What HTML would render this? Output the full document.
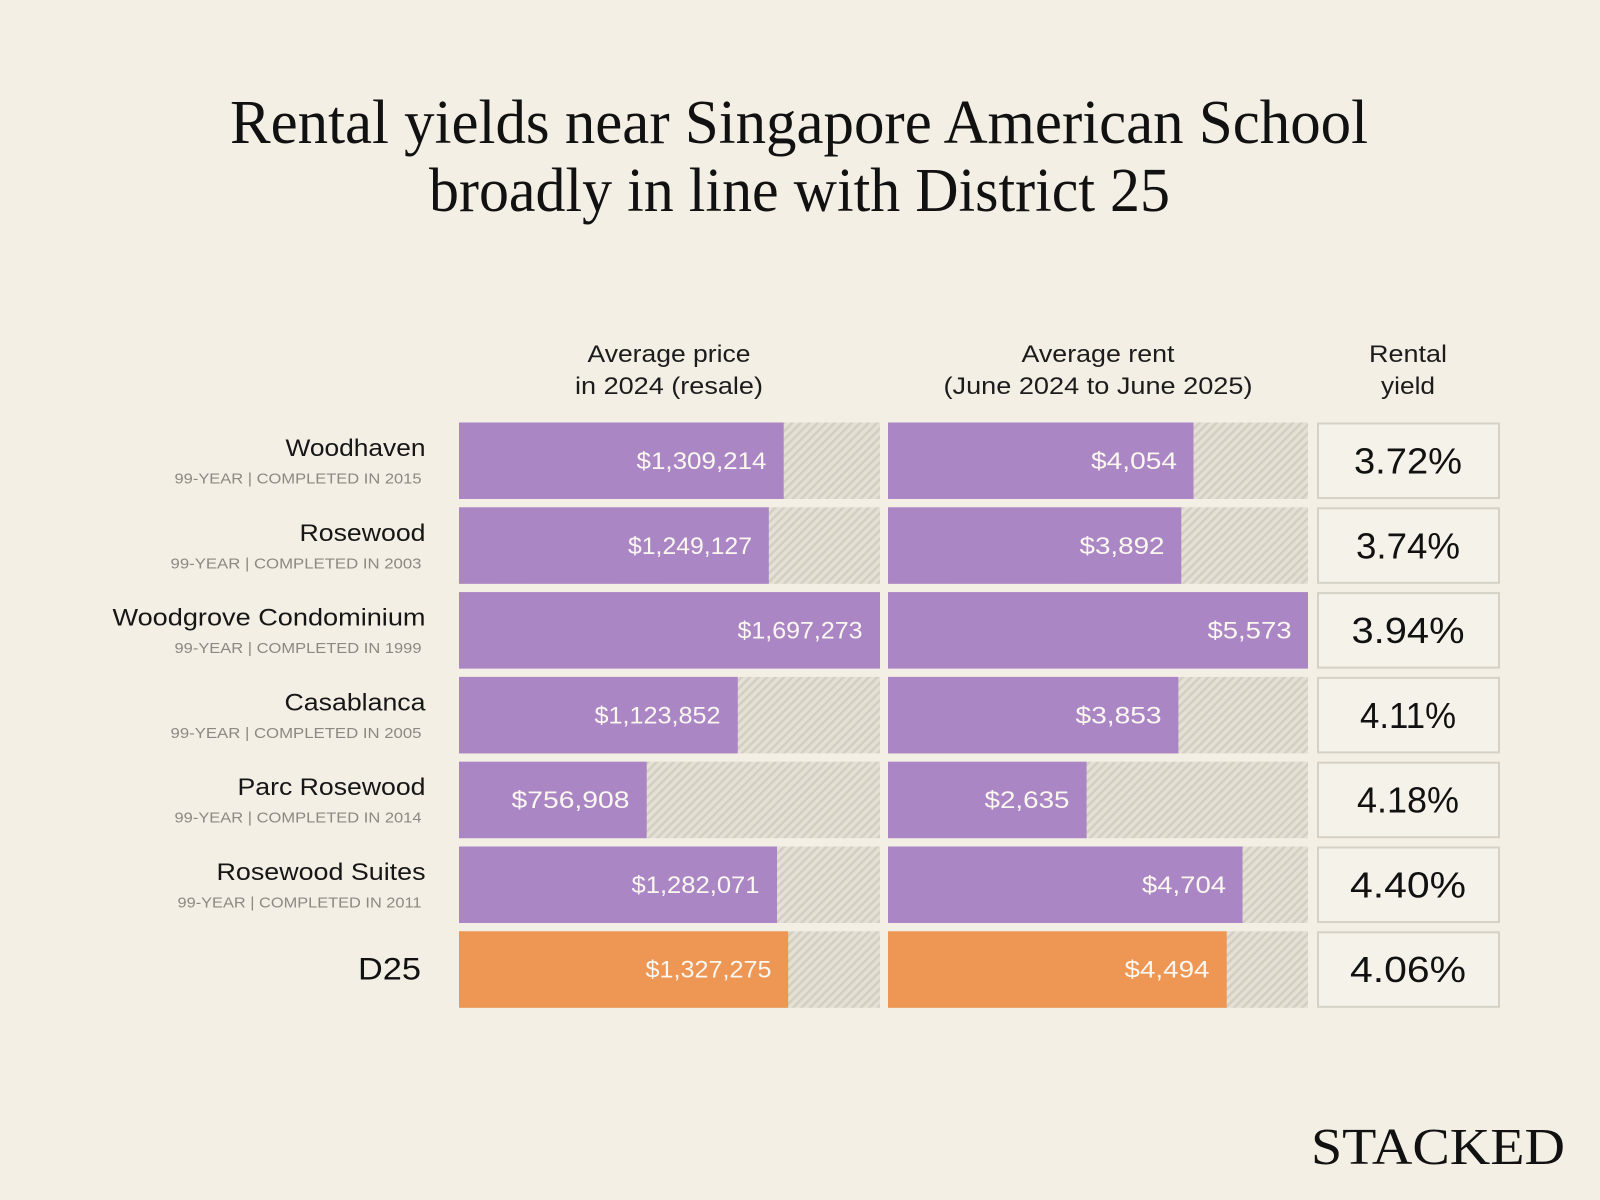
<!DOCTYPE html>
<html>
<head>
<meta charset="utf-8">
<style>
  html, body { margin:0; padding:0; background:#F3EFE5; }
  svg { display:block; }
  .sans { font-family: "Liberation Sans", "DejaVu Sans", sans-serif; }
  .serif { font-family: "Liberation Serif", "DejaVu Serif", serif; }
</style>
</head>
<body>
<svg width="1600" height="1200" viewBox="0 0 1600 1200" xmlns="http://www.w3.org/2000/svg">
  <defs>
    <pattern id="h" width="6" height="6" patternUnits="userSpaceOnUse" patternTransform="rotate(45)">
      <rect width="6" height="6" fill="#E4E0D5"/>
      <rect width="2.4" height="6" fill="#D2CEC2"/>
    </pattern>
  </defs>
  <rect width="1600" height="1200" fill="#F3EFE5"/>

  <!-- Title -->
  <text class="serif" x="230" y="143" font-size="62" fill="#111" textLength="1138" lengthAdjust="spacingAndGlyphs">Rental yields near Singapore American School</text>
  <text class="serif" x="429" y="211" font-size="62" fill="#111" textLength="741" lengthAdjust="spacingAndGlyphs">broadly in line with District 25</text>

  <!-- Column headers -->
  <g class="sans" font-size="24" fill="#1c1c1c" text-anchor="middle">
    <text x="669" y="362" textLength="163" lengthAdjust="spacingAndGlyphs">Average price</text>
    <text x="669" y="394" textLength="188" lengthAdjust="spacingAndGlyphs">in 2024 (resale)</text>
    <text x="1098" y="362" textLength="153" lengthAdjust="spacingAndGlyphs">Average rent</text>
    <text x="1098" y="394" textLength="309" lengthAdjust="spacingAndGlyphs">(June 2024 to June 2025)</text>
    <text x="1408" y="362" textLength="78" lengthAdjust="spacingAndGlyphs">Rental</text>
    <text x="1408" y="394" textLength="54" lengthAdjust="spacingAndGlyphs">yield</text>
  </g>

  <!-- Hatched backgrounds -->
  <g fill="url(#h)">
    <rect x="459" y="422.5" width="421" height="76.5"/>
    <rect x="459" y="507.3" width="421" height="76.5"/>
    <rect x="459" y="592.1" width="421" height="76.5"/>
    <rect x="459" y="676.9" width="421" height="76.5"/>
    <rect x="459" y="761.7" width="421" height="76.5"/>
    <rect x="459" y="846.5" width="421" height="76.5"/>
    <rect x="459" y="931.3" width="421" height="76.5"/>
    <rect x="888" y="422.5" width="420" height="76.5"/>
    <rect x="888" y="507.3" width="420" height="76.5"/>
    <rect x="888" y="592.1" width="420" height="76.5"/>
    <rect x="888" y="676.9" width="420" height="76.5"/>
    <rect x="888" y="761.7" width="420" height="76.5"/>
    <rect x="888" y="846.5" width="420" height="76.5"/>
    <rect x="888" y="931.3" width="420" height="76.5"/>
  </g>

  <!-- Price bars -->
  <g fill="#AB86C4">
    <rect x="459" y="422.5" width="324.7" height="76.5"/>
    <rect x="459" y="507.3" width="309.8" height="76.5"/>
    <rect x="459" y="592.1" width="421" height="76.5"/>
    <rect x="459" y="676.9" width="278.8" height="76.5"/>
    <rect x="459" y="761.7" width="187.7" height="76.5"/>
    <rect x="459" y="846.5" width="318.0" height="76.5"/>
  </g>
  <rect x="459" y="931.3" width="329.2" height="76.5" fill="#EE9654"/>

  <!-- Rent bars -->
  <g fill="#AB86C4">
    <rect x="888" y="422.5" width="305.5" height="76.5"/>
    <rect x="888" y="507.3" width="293.3" height="76.5"/>
    <rect x="888" y="592.1" width="420" height="76.5"/>
    <rect x="888" y="676.9" width="290.4" height="76.5"/>
    <rect x="888" y="761.7" width="198.6" height="76.5"/>
    <rect x="888" y="846.5" width="354.5" height="76.5"/>
  </g>
  <rect x="888" y="931.3" width="338.7" height="76.5" fill="#EE9654"/>

  <!-- Bar values -->
  <g class="sans" font-size="24" fill="#FBF7F1" text-anchor="end">
    <text x="766.5" y="469" textLength="130" lengthAdjust="spacingAndGlyphs">$1,309,214</text>
    <text x="752" y="553.8" textLength="124" lengthAdjust="spacingAndGlyphs">$1,249,127</text>
    <text x="862.5" y="638.6" textLength="125" lengthAdjust="spacingAndGlyphs">$1,697,273</text>
    <text x="720.5" y="723.4" textLength="126" lengthAdjust="spacingAndGlyphs">$1,123,852</text>
    <text x="629.5" y="808.2" textLength="118" lengthAdjust="spacingAndGlyphs">$756,908</text>
    <text x="759.5" y="893" textLength="128" lengthAdjust="spacingAndGlyphs">$1,282,071</text>
    <text x="771.5" y="977.5" textLength="126" lengthAdjust="spacingAndGlyphs">$1,327,275</text>

    <text x="1177" y="469" textLength="86" lengthAdjust="spacingAndGlyphs">$4,054</text>
    <text x="1164.5" y="553.8" textLength="85" lengthAdjust="spacingAndGlyphs">$3,892</text>
    <text x="1291.5" y="638.6" textLength="84" lengthAdjust="spacingAndGlyphs">$5,573</text>
    <text x="1161.5" y="723.4" textLength="86" lengthAdjust="spacingAndGlyphs">$3,853</text>
    <text x="1069.5" y="808.2" textLength="85" lengthAdjust="spacingAndGlyphs">$2,635</text>
    <text x="1226" y="893" textLength="84" lengthAdjust="spacingAndGlyphs">$4,704</text>
    <text x="1209.5" y="977.5" textLength="85" lengthAdjust="spacingAndGlyphs">$4,494</text>
  </g>

  <!-- Yield boxes -->
  <g fill="#F5F2EA" stroke="#D6D1C5" stroke-width="2">
    <rect x="1318" y="423.5" width="181" height="74.5"/>
    <rect x="1318" y="508.3" width="181" height="74.5"/>
    <rect x="1318" y="593.1" width="181" height="74.5"/>
    <rect x="1318" y="677.9" width="181" height="74.5"/>
    <rect x="1318" y="762.7" width="181" height="74.5"/>
    <rect x="1318" y="847.5" width="181" height="74.5"/>
    <rect x="1318" y="932.3" width="181" height="74.5"/>
  </g>
  <g class="sans" font-size="36" fill="#111" text-anchor="middle">
    <text x="1408" y="473.5" textLength="108" lengthAdjust="spacingAndGlyphs">3.72%</text>
    <text x="1408" y="558.3" textLength="104" lengthAdjust="spacingAndGlyphs">3.74%</text>
    <text x="1408" y="643.1" textLength="113" lengthAdjust="spacingAndGlyphs">3.94%</text>
    <text x="1408" y="727.9" textLength="96" lengthAdjust="spacingAndGlyphs">4.11%</text>
    <text x="1408" y="812.7" textLength="102" lengthAdjust="spacingAndGlyphs">4.18%</text>
    <text x="1408" y="897.5" textLength="116" lengthAdjust="spacingAndGlyphs">4.40%</text>
    <text x="1408" y="982" textLength="116" lengthAdjust="spacingAndGlyphs">4.06%</text>
  </g>

  <!-- Row labels -->
  <g class="sans" font-size="24" fill="#161616" text-anchor="end">
    <text x="425.5" y="456" textLength="140" lengthAdjust="spacingAndGlyphs">Woodhaven</text>
    <text x="425.5" y="540.8" textLength="126" lengthAdjust="spacingAndGlyphs">Rosewood</text>
    <text x="425.5" y="625.6" textLength="313" lengthAdjust="spacingAndGlyphs">Woodgrove Condominium</text>
    <text x="425.5" y="710.4" textLength="141" lengthAdjust="spacingAndGlyphs">Casablanca</text>
    <text x="425.5" y="795.2" textLength="188" lengthAdjust="spacingAndGlyphs">Parc Rosewood</text>
    <text x="425.5" y="880" textLength="209" lengthAdjust="spacingAndGlyphs">Rosewood Suites</text>
  </g>
  <g class="sans" font-size="15" fill="#8C8882" text-anchor="end">
    <text x="421.5" y="483.5" textLength="247" lengthAdjust="spacingAndGlyphs">99-YEAR | COMPLETED IN 2015</text>
    <text x="421.5" y="568.3" textLength="251" lengthAdjust="spacingAndGlyphs">99-YEAR | COMPLETED IN 2003</text>
    <text x="421.5" y="653.1" textLength="247" lengthAdjust="spacingAndGlyphs">99-YEAR | COMPLETED IN 1999</text>
    <text x="421.5" y="737.9" textLength="251" lengthAdjust="spacingAndGlyphs">99-YEAR | COMPLETED IN 2005</text>
    <text x="421.5" y="822.7" textLength="247" lengthAdjust="spacingAndGlyphs">99-YEAR | COMPLETED IN 2014</text>
    <text x="421.5" y="907.5" textLength="244" lengthAdjust="spacingAndGlyphs">99-YEAR | COMPLETED IN 2011</text>
  </g>
  <text class="sans" x="421" y="979.5" font-size="31.5" fill="#111" text-anchor="end" textLength="63" lengthAdjust="spacingAndGlyphs">D25</text>

  <!-- Logo -->
  <text class="serif" x="1311" y="1164" font-size="52" fill="#111" textLength="254" lengthAdjust="spacingAndGlyphs">STACKED</text>
</svg>
</body>
</html>
